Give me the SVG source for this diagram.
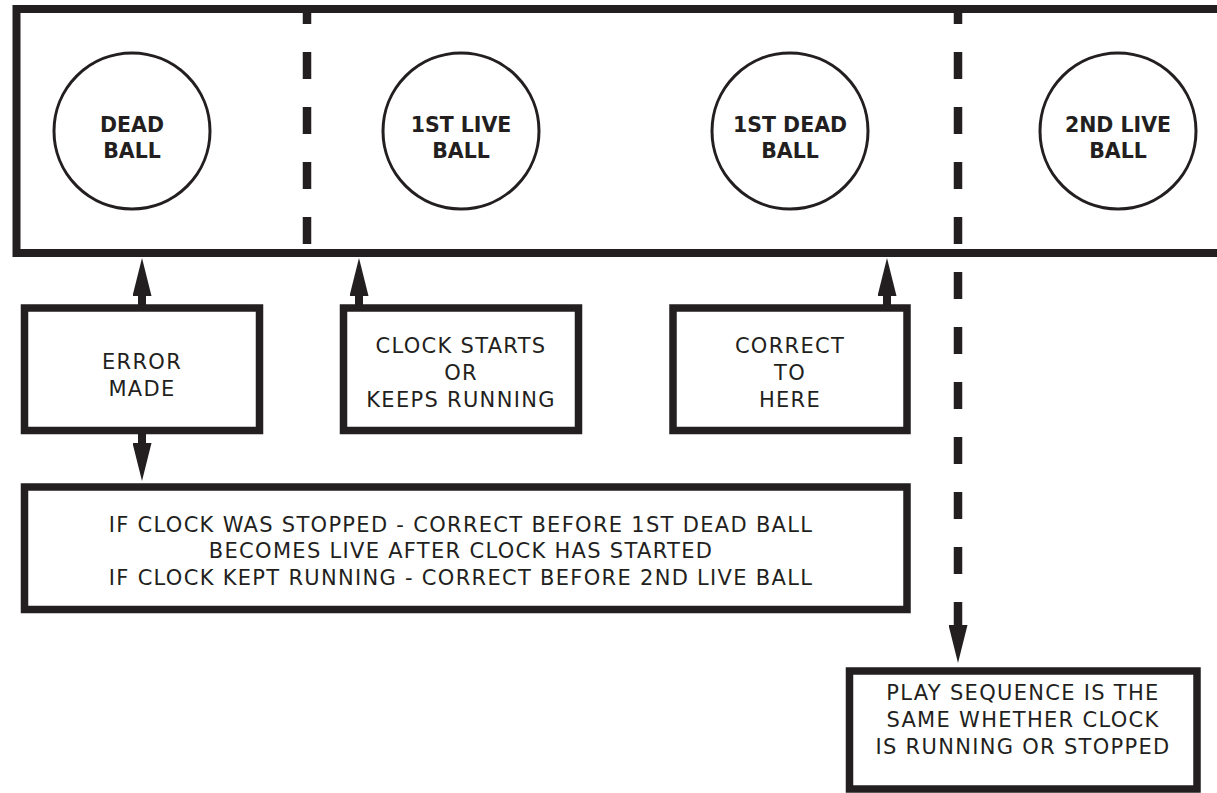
<svg xmlns="http://www.w3.org/2000/svg" width="1217" height="793" viewBox="0 0 1217 793">
  <style>
    .frame { fill: none; stroke: #231f20; stroke-width: 8; }
    .ball { fill: #ffffff; stroke: #231f20; stroke-width: 3; }
    .box { fill: #ffffff; stroke: #231f20; stroke-width: 7.5; }
    .dash { stroke: #231f20; stroke-width: 8.5; stroke-dasharray: 27 28; fill: none; }
    .conn { stroke: #231f20; stroke-width: 8; fill: none; }
    .bold { font-family: "DejaVu Sans", "Liberation Sans", sans-serif; font-weight: bold; font-size: 20.5px; fill: #231f20; text-anchor: middle; }
    .reg { font-family: "DejaVu Sans", "Liberation Sans", sans-serif; font-size: 21px; letter-spacing: 1.3px; fill: #231f20; text-anchor: middle; }
  </style>
  <defs>
    <marker id="head" markerUnits="userSpaceOnUse" markerWidth="38" markerHeight="19" refX="0" refY="9.5" orient="auto">
      <path d="M0,0 L38,9.5 L0,19 Z" fill="#231f20"/>
    </marker>
  </defs>
  <rect width="1217" height="793" fill="#ffffff"/>

  <g id="sequence-frame">
    <rect class="frame" x="16.5" y="9" width="1230" height="244"/>
  </g>

  <g id="ball-dead">
    <circle class="ball" cx="132" cy="131" r="78"/>
    <text class="bold" x="132" y="132">DEAD</text>
    <text class="bold" x="132" y="158">BALL</text>
  </g>
  <g id="ball-1st-live">
    <circle class="ball" cx="461" cy="131" r="78"/>
    <text class="bold" x="461" y="132">1ST LIVE</text>
    <text class="bold" x="461" y="158">BALL</text>
  </g>
  <g id="ball-1st-dead">
    <circle class="ball" cx="790" cy="131" r="78"/>
    <text class="bold" x="790" y="132">1ST DEAD</text>
    <text class="bold" x="790" y="158">BALL</text>
  </g>
  <g id="ball-2nd-live">
    <circle class="ball" cx="1118" cy="131" r="78"/>
    <text class="bold" x="1118" y="132">2ND LIVE</text>
    <text class="bold" x="1118" y="158">BALL</text>
  </g>

  <g id="connectors">
    <line class="dash" x1="307" y1="9" x2="307" y2="245" stroke-dashoffset="12"/>
    <line class="dash" x1="958" y1="9" x2="958" y2="625" stroke-dashoffset="12" marker-end="url(#head)"/>
    <line class="conn" x1="142" y1="306" x2="142" y2="296" marker-end="url(#head)"/>
    <line class="conn" x1="142" y1="432" x2="142" y2="443" marker-end="url(#head)"/>
    <line class="conn" x1="359" y1="306" x2="359" y2="296" marker-end="url(#head)"/>
    <line class="conn" x1="887" y1="306" x2="887" y2="296" marker-end="url(#head)"/>
  </g>

  <g id="box-error">
    <rect class="box" x="24.5" y="308" width="235" height="122.5"/>
    <text class="reg" x="142" y="369">ERROR</text>
    <text class="reg" x="142" y="396">MADE</text>
  </g>
  <g id="box-clock">
    <rect class="box" x="343.5" y="308" width="235" height="122.5"/>
    <text class="reg" x="461" y="353">CLOCK STARTS</text>
    <text class="reg" x="461" y="380">OR</text>
    <text class="reg" x="461" y="407">KEEPS RUNNING</text>
  </g>
  <g id="box-correct">
    <rect class="box" x="673" y="308" width="234" height="122.5"/>
    <text class="reg" x="790" y="353">CORRECT</text>
    <text class="reg" x="790" y="380">TO</text>
    <text class="reg" x="790" y="407">HERE</text>
  </g>
  <g id="box-rule">
    <rect class="box" x="24.5" y="487" width="882.5" height="122.5"/>
    <text class="reg" x="461" y="532">IF CLOCK WAS STOPPED - CORRECT BEFORE 1ST DEAD BALL</text>
    <text class="reg" x="461" y="558">BECOMES LIVE AFTER CLOCK HAS STARTED</text>
    <text class="reg" x="461" y="585">IF CLOCK KEPT RUNNING - CORRECT BEFORE 2ND LIVE BALL</text>
  </g>
  <g id="box-play">
    <rect class="box" x="849.5" y="671" width="347.5" height="118"/>
    <text class="reg" x="1023" y="700">PLAY SEQUENCE IS THE</text>
    <text class="reg" x="1023" y="727">SAME WHETHER CLOCK</text>
    <text class="reg" x="1023" y="754">IS RUNNING OR STOPPED</text>
  </g>
</svg>
